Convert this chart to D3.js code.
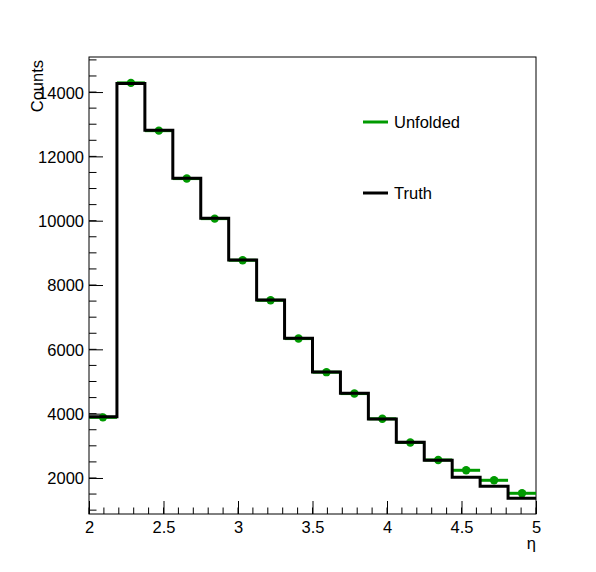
<!DOCTYPE html>
<html>
<head>
<meta charset="utf-8">
<script src="https://cdn.jsdelivr.net/npm/d3@7/dist/d3.min.js"></script>
<style>
  html, body { margin: 0; padding: 0; background: #fff; }
  svg { display: block; }
  text { font-family: "Liberation Sans", Arial, Helvetica, sans-serif; }
</style>
</head>
<body>
<script>
// ---- data ----
const binEdges = [2, 2.1875, 2.375, 2.5625, 2.75, 2.9375, 3.125, 3.3125, 3.5,
                  3.6875, 3.875, 4.0625, 4.25, 4.4375, 4.625, 4.8125, 5];
const truth    = [3906, 14264, 12809, 11317, 10073, 8777, 7534, 6342,
                  5295, 4632, 3834, 3109, 2550, 2021, 1741, 1369];
const unfolded = [3885, 14285, 12800, 11310, 10065, 8770, 7525, 6335,
                  5290, 4625, 3840, 3105, 2560, 2239, 1928, 1524];
const xTicks = [2, 2.5, 3, 3.5, 4, 4.5, 5];
const xTickLabels = ["2", "2.5", "3", "3.5", "4", "4.5", "5"];
const yTicks = [2000, 4000, 6000, 8000, 10000, 12000, 14000];
const yTickLabels = ["2000", "4000", "6000", "8000", "10000", "12000", "14000"];
const xDomain = [2, 5];
const yDomain = [880, 15090];
const legendLabels = ["Unfolded", "Truth"];
const xTitle = "η";
const yTitle = "Counts";

// ---- layout ----
const W = 596, H = 572;
const L = 89, R = 536, T = 57, B = 514;
const green = "#009a00";
const FS = 16.5;

const svg = d3.select("body").append("svg").attr("width", W).attr("height", H);
svg.append("rect").attr("width", W).attr("height", H).attr("fill", "#fff");

const x = d3.scaleLinear().domain(xDomain).range([L, R]);
const y = d3.scaleLinear().domain(yDomain).range([B, T]);

// frame
svg.append("rect").attr("x", L).attr("y", T).attr("width", R - L).attr("height", B - T)
  .attr("fill", "none").attr("stroke", "#000").attr("stroke-width", 1);

// x axis minor ticks
const xMinor = d3.range(0, 31).map(i => 2 + i * 0.1);
const xAx = svg.append("g").attr("transform", `translate(0,${B})`);
xMinor.forEach(v => {
  xAx.append("line").attr("x1", x(v)).attr("x2", x(v)).attr("y1", 0).attr("y2", -6.5)
     .attr("stroke", "#000").attr("stroke-width", 1);
});
const xMajor = svg.append("g").attr("transform", `translate(0,${B})`)
  .call(d3.axisBottom(x).tickValues(xTicks).tickSize(-13).tickPadding(0)
        .tickFormat((d, i) => xTickLabels[i]));
xMajor.select(".domain").remove();
xMajor.selectAll(".tick line").attr("stroke", "#000");
xMajor.selectAll(".tick text").attr("y", 19).attr("dy", null)
  .attr("font-size", FS).attr("fill", "#000");

// y axis
const yMinor = d3.range(1000, 15001, 500);
const yAx = svg.append("g").attr("transform", `translate(${L},0)`);
yMinor.forEach(v => {
  yAx.append("line").attr("x1", 0).attr("x2", 7.5).attr("y1", y(v)).attr("y2", y(v))
     .attr("stroke", "#000").attr("stroke-width", 1);
});
const yMajor = svg.append("g").attr("transform", `translate(${L},0)`)
  .call(d3.axisLeft(y).tickValues(yTicks).tickSize(-14).tickPadding(0)
        .tickFormat((d, i) => yTickLabels[i]));
yMajor.select(".domain").remove();
yMajor.selectAll(".tick line").attr("stroke", "#000");
yMajor.selectAll(".tick text").attr("x", -5).attr("dy", "0.36em")
  .attr("font-size", FS).attr("fill", "#000");

// axis titles
svg.append("text").attr("x", R).attr("y", 549).attr("text-anchor", "end")
  .attr("font-size", FS).text(xTitle);
svg.append("text").attr("transform", `translate(43,${T + 3}) rotate(-90)`)
  .attr("text-anchor", "end").attr("font-size", FS).text(yTitle);

// unfolded: horizontal error bars + markers
const bins = truth.map((t, i) => ({ lo: binEdges[i], hi: binEdges[i + 1], t, u: unfolded[i] }));
svg.append("g").selectAll("line").data(bins).join("line")
  .attr("x1", d => x(d.lo)).attr("x2", d => x(d.hi))
  .attr("y1", d => y(d.u)).attr("y2", d => y(d.u))
  .attr("stroke", green).attr("stroke-width", 3);
svg.append("g").selectAll("circle").data(bins).join("circle")
  .attr("cx", d => x((d.lo + d.hi) / 2)).attr("cy", d => y(d.u)).attr("r", 4.2)
  .attr("fill", green);

// truth step histogram
const pts = [];
bins.forEach(d => { pts.push([d.lo, d.t]); pts.push([d.hi, d.t]); });
svg.append("path").datum(pts)
  .attr("d", d3.line().x(d => x(d[0])).y(d => y(d[1])))
  .attr("fill", "none").attr("stroke", "#000").attr("stroke-width", 3)
  .attr("stroke-linejoin", "miter").attr("stroke-linecap", "butt");

// legend
const legColors = [green, "#000"];
const legY = [122, 193];
legendLabels.forEach((lab, i) => {
  svg.append("line").attr("x1", 363).attr("x2", 388).attr("y1", legY[i]).attr("y2", legY[i])
    .attr("stroke", legColors[i]).attr("stroke-width", 3);
  svg.append("text").attr("x", 394).attr("y", legY[i] + 5.5).attr("font-size", FS)
    .attr("fill", "#000").text(lab);
});
</script>
</body>
</html>
